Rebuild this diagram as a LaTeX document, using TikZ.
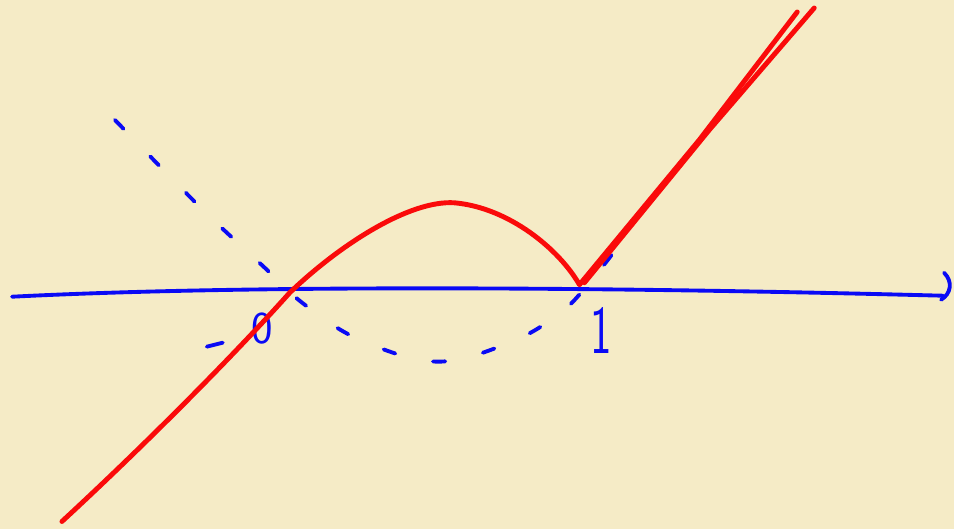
\documentclass[tikz,border=0pt]{standalone}
\usepackage{xcolor}
\definecolor{paper}{HTML}{F5EBC6}
\definecolor{inkblue}{HTML}{0A0AF5}
\definecolor{inkred}{HTML}{FA0A0A}
\begin{document}
\begin{tikzpicture}[x=0.02cm,y=-0.02cm,
  bluepen/.style={inkblue,line width=2.2pt,line cap=round,line join=round},
  redpen/.style={inkred,line width=2.8pt,line cap=round,line join=round},
  guess/.style={bluepen,dash pattern=on 7pt off 22pt},
  hand/.style={inkblue,font=\sffamily\fontsize{26}{26}\selectfont}]
  \fill[paper] (0,0) rectangle (955,530);
  % axis
  \draw[bluepen] (12,297) .. controls (250,285) and (600,287) .. (944,296);
  \draw[bluepen] (945,273) .. controls (954,282) and (952,294) .. (942,300);
  % dashed parabola
  \draw[guess] plot[smooth,tension=0.6] coordinates {(115,120) (200,207) (265,268) (305,305) (360,340) (437,362) (510,343) (560,314) (590,283) (620,245)};
  \draw[bluepen] (207,347) -- (223,343);
  % labels
  \node[hand] (zero) at (262,329) {0};
  \node[hand,yscale=1.5] (one) at (602,331) {1};
  % red curve
  \draw[redpen] (62,522) .. controls (140,450) and (230,360) .. (290,293)
    .. controls (340,245) and (410,200) .. (455,203)
    .. controls (510,208) and (560,250) .. (580,285)
    -- (700,140) -- (798,12);
  \draw[redpen] (585,283) -- (710,130) -- (815,8);
\end{tikzpicture}
\end{document}
